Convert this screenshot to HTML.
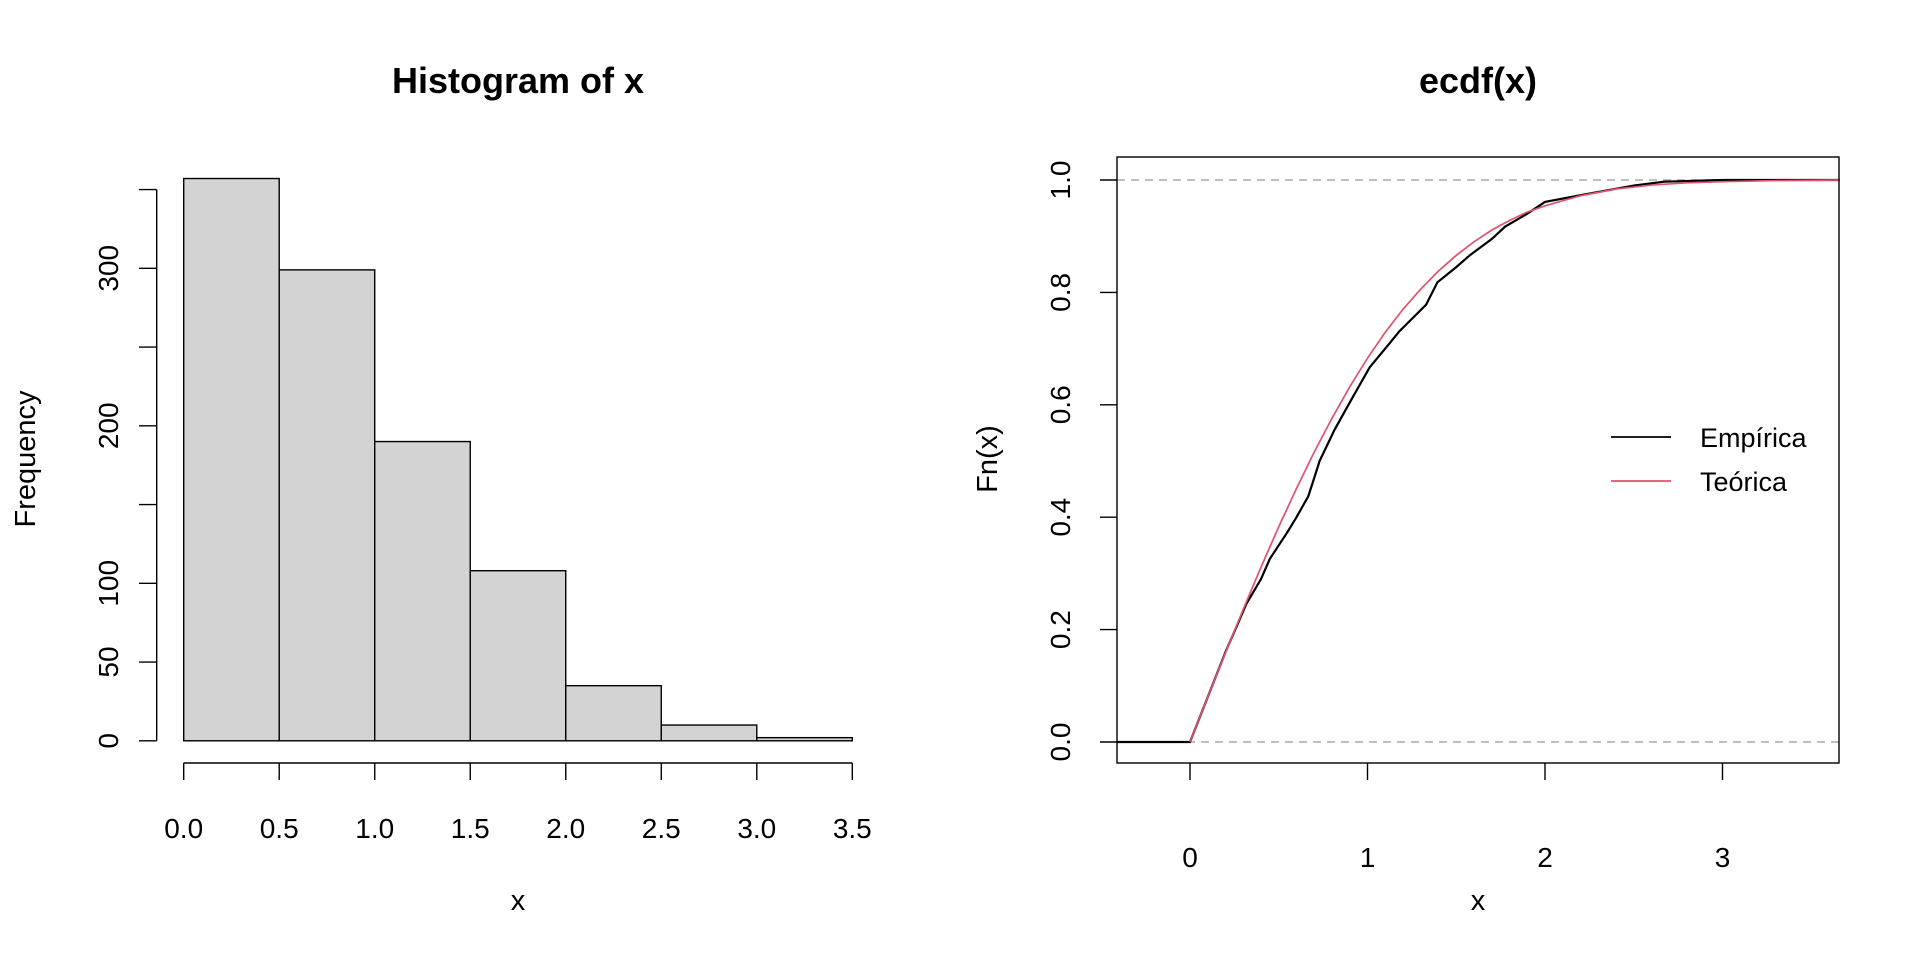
<!DOCTYPE html>
<html><head><meta charset="utf-8"><style>
html,body{margin:0;padding:0;background:#fff;}
svg text{font-family:"Liberation Sans",Arial,sans-serif;fill:#000;}
</style></head><body>
<svg id="chart" width="1920" height="960" viewBox="0 0 1920 960" xmlns="http://www.w3.org/2000/svg">
<g id="hist"></g>
<g id="ecdf"></g>
</svg>
<script>
// Histogram data
const histBreaks = [0,0.5,1,1.5,2,2.5,3,3.5];
const histCounts = [357,299,190,108,35,10,2];
const histXTicks = [0,0.5,1,1.5,2,2.5,3,3.5];
const histXLabels = ["0.0","0.5","1.0","1.5","2.0","2.5","3.0","3.5"];
const histYTicks = [0,50,100,150,200,250,300,350];
const histYLabels = ["0","50","100","","200","","300",""];
// ECDF data
const ecdfX = [-0.41,0,0.1,0.2,0.318,0.4,0.45,0.55,0.6,0.666,0.7,0.73,0.815,0.914,1.013,1.1,1.18,1.33,1.394,1.5,1.576,1.7,1.775,1.9,2.0,2.2,2.34,2.5,2.67,3.0,3.66];
const ecdfY = [0,0,0.08,0.16,0.246,0.29,0.326,0.374,0.4,0.437,0.47,0.5,0.556,0.612,0.667,0.7,0.731,0.778,0.818,0.845,0.866,0.895,0.917,0.94,0.961,0.973,0.981,0.99,0.997,1,1];
const theoX = [0,0.1,0.2,0.3,0.4,0.5,0.6,0.7,0.8,0.9,1.0,1.1,1.2,1.3,1.4,1.5,1.6,1.7,1.8,1.9,2.0,2.2,2.4,2.6,2.8,3.0,3.3,3.66];
const theoY = [0,0.080,0.159,0.236,0.311,0.383,0.451,0.516,0.576,0.632,0.683,0.729,0.770,0.806,0.838,0.866,0.890,0.911,0.928,0.943,0.954,0.972,0.984,0.991,0.995,0.997,0.999,1.0];
const ecdfXTicks = [0,1,2,3];
const ecdfYTicks = [0,0.2,0.4,0.6,0.8,1.0];
const ecdfYLabels = ["0.0","0.2","0.4","0.6","0.8","1.0"];

const NS="http://www.w3.org/2000/svg";
const TICK=28, LAB=29, TITLE=36, LEG=27;
function mk(parent, tag, attrs, text){
  const e=document.createElementNS(NS,tag);
  for(const k in attrs) e.setAttribute(k,attrs[k]);
  if(text!==undefined) e.textContent=text;
  parent.appendChild(e); return e;
}
// ---- Histogram ----
const H=document.getElementById('hist');
const hx=v=>183.7+v*(852.3-183.7)/3.5;
const hy=v=>740.8-v*1.575;
let t;
t=mk(H,'text',{x:518,y:93,'font-size':TITLE,'font-weight':'bold','text-anchor':'middle'},'Histogram of x');


histCounts.forEach((c,i)=>{
  const r=mk(H,'rect',{x:hx(histBreaks[i]),y:hy(c),width:hx(histBreaks[i+1])-hx(histBreaks[i]),height:hy(0)-hy(c),fill:'#d3d3d3',stroke:'#000','stroke-width':1.4});
  
  
});
let ax=mk(H,'line',{x1:hx(0),x2:hx(3.5),y1:763,y2:763,stroke:'#000','stroke-width':1.4});


histXTicks.forEach((v,i)=>{
  mk(H,'line',{x1:hx(v),x2:hx(v),y1:763,y2:780,stroke:'#000','stroke-width':1.4});
  t=mk(H,'text',{x:hx(v),y:838,'font-size':TICK,'text-anchor':'middle'},histXLabels[i]);
  
  
});
ax=mk(H,'line',{x1:156.7,x2:156.7,y1:hy(0),y2:hy(350),stroke:'#000','stroke-width':1.4});


histYTicks.forEach((v,i)=>{
  mk(H,'line',{x1:139,x2:156.7,y1:hy(v),y2:hy(v),stroke:'#000','stroke-width':1.4});
  if(histYLabels[i]){
    t=mk(H,'text',{x:0,y:0,'font-size':TICK,'text-anchor':'middle',transform:`translate(118,${hy(v)}) rotate(-90)`},histYLabels[i]);
    
    
  }
});
t=mk(H,'text',{x:0,y:0,'font-size':LAB,'text-anchor':'middle',transform:'translate(35,459) rotate(-90)'},'Frequency');


t=mk(H,'text',{x:518,y:910,'font-size':LAB,'text-anchor':'middle'},'x');



// ---- ECDF ----
const E=document.getElementById('ecdf');
const ex=v=>1190+v*177.5;
const ey=v=>742-v*562;
t=mk(E,'text',{x:1478,y:93,'font-size':TITLE,'font-weight':'bold','text-anchor':'middle'},'ecdf(x)');


[0,1].forEach(v=>{
  const l=mk(E,'line',{x1:1117,x2:1839,y1:ey(v),y2:ey(v),stroke:'#aaa','stroke-width':1.4,'stroke-dasharray':'8,6'});
  
  
});
let p=mk(E,'polyline',{points:ecdfX.map((x,i)=>ex(x)+','+ey(ecdfY[i])).join(' '),fill:'none',stroke:'#000','stroke-width':2.2});


p=mk(E,'polyline',{points:theoX.map((x,i)=>ex(x)+','+ey(theoY[i])).join(' '),fill:'none',stroke:'#DF536B','stroke-width':1.7});


const box=mk(E,'rect',{x:1117,y:157,width:722,height:606,fill:'none',stroke:'#000','stroke-width':1.4});


ecdfXTicks.forEach(v=>{
  mk(E,'line',{x1:ex(v),x2:ex(v),y1:763,y2:780,stroke:'#000','stroke-width':1.4});
  t=mk(E,'text',{x:ex(v),y:867,'font-size':TICK,'text-anchor':'middle'},String(v));
  
  
});
ecdfYTicks.forEach((v,i)=>{
  mk(E,'line',{x1:1100,x2:1117,y1:ey(v),y2:ey(v),stroke:'#000','stroke-width':1.4});
  t=mk(E,'text',{x:0,y:0,'font-size':TICK,'text-anchor':'middle',transform:`translate(1070,${ey(v)}) rotate(-90)`},ecdfYLabels[i]);
  
  
});
t=mk(E,'text',{x:0,y:0,'font-size':LAB,'text-anchor':'middle',transform:'translate(997,459) rotate(-90)'},'Fn(x)');


t=mk(E,'text',{x:1478,y:910,'font-size':LAB,'text-anchor':'middle'},'x');


// legend
const L=mk(E,'g',{});


mk(L,'line',{x1:1611,x2:1671,y1:437,y2:437,stroke:'#000','stroke-width':1.7});
t=mk(L,'text',{x:1700,y:447,'font-size':LEG},'Empírica');


mk(L,'line',{x1:1611,x2:1671,y1:481,y2:481,stroke:'#DF536B','stroke-width':1.7});
t=mk(L,'text',{x:1700,y:491,'font-size':LEG},'Teórica');


</script>
</body></html>
